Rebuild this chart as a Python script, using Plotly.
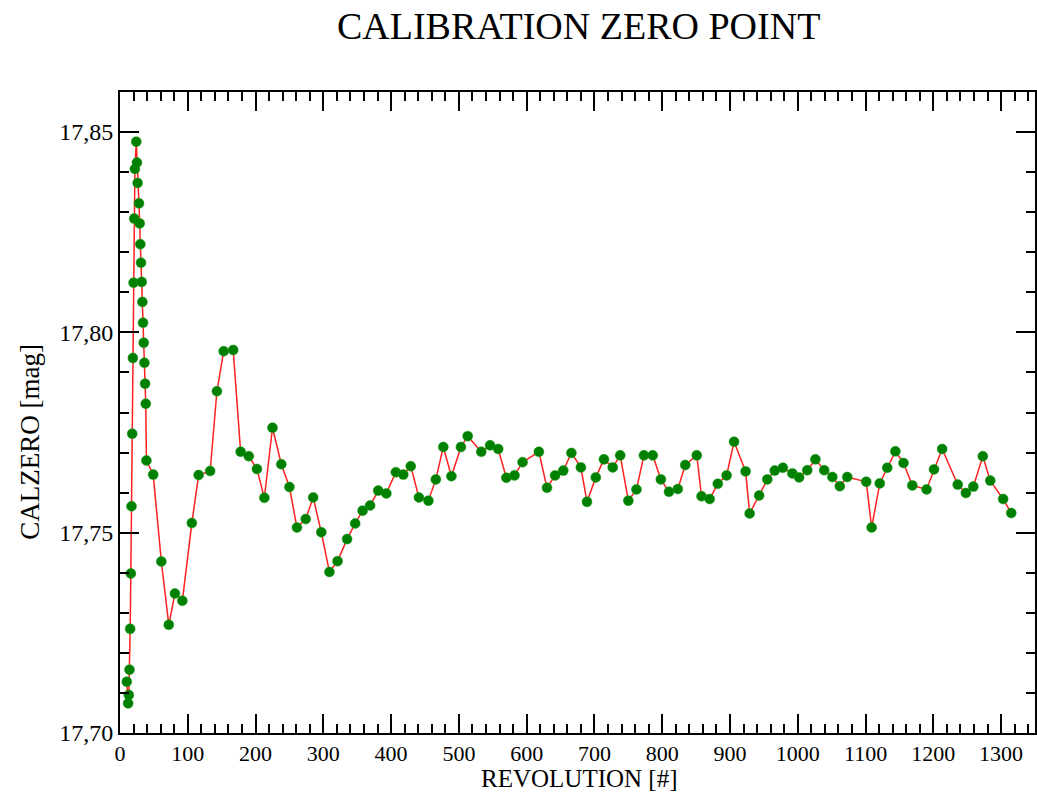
import plotly.graph_objects as go

revolution = [10, 12, 13, 14, 15, 16, 17, 18, 19, 20, 21, 22, 24, 25, 26, 28, 29, 30, 31, 32,
              33, 34, 35, 36, 37, 38, 39, 49, 61, 72, 81, 92, 106, 116, 133, 143, 153, 167, 178,
              190, 202, 213, 225, 238, 250, 261, 274, 285, 297, 309, 321, 335, 347, 358, 369,
              381, 393, 407, 418, 429, 441, 455, 466, 477, 489, 503, 513, 533, 546, 558, 570,
              582, 594, 618, 630, 642, 654, 666, 680, 689, 702, 714, 727, 738, 750, 762, 773,
              786, 798, 810, 823, 834, 851, 858, 870, 882, 895, 906, 923, 929, 943, 955, 966,
              978, 992, 1002, 1014, 1026, 1039, 1051, 1062, 1073, 1101, 1109, 1121, 1132, 1144,
              1156, 1169, 1190, 1201, 1213, 1236, 1248, 1259, 1273, 1284, 1303, 1315]

calzero = [17.7128, 17.7074, 17.7095, 17.7158, 17.7260, 17.7398, 17.7566, 17.7747, 17.7936,
           17.8124, 17.8284, 17.8408, 17.8476, 17.8424, 17.8373, 17.8322, 17.8272, 17.8220,
           17.8174, 17.8126, 17.8076, 17.8024, 17.7974, 17.7924, 17.7872, 17.7822, 17.7680,
           17.7645, 17.7428, 17.7270, 17.7348, 17.7330, 17.7524, 17.7644, 17.7654, 17.7853,
           17.7953, 17.7956, 17.7702, 17.7691, 17.7659, 17.7587, 17.7762, 17.7671, 17.7614,
           17.7513, 17.7534, 17.7588, 17.7501, 17.7402, 17.7429, 17.7484, 17.7523, 17.7555,
           17.7568, 17.7605, 17.7598, 17.7651, 17.7645, 17.7666, 17.7588, 17.7580, 17.7633,
           17.7714, 17.7641, 17.7714, 17.7741, 17.7702, 17.7718, 17.7709, 17.7637, 17.7643,
           17.7676, 17.7702, 17.7612, 17.7643, 17.7655, 17.7699, 17.7663, 17.7577, 17.7638,
           17.7683, 17.7663, 17.7693, 17.7580, 17.7608, 17.7693, 17.7693, 17.7633, 17.7602,
           17.7609, 17.7669, 17.7693, 17.7591, 17.7584, 17.7622, 17.7643, 17.7727, 17.7653,
           17.7548, 17.7593, 17.7633, 17.7655, 17.7662, 17.7648, 17.7638, 17.7656, 17.7683,
           17.7656, 17.7639, 17.7616, 17.7639, 17.7627, 17.7513, 17.7623, 17.7662, 17.7703,
           17.7674, 17.7618, 17.7608, 17.7658, 17.7709, 17.7620, 17.7599, 17.7615, 17.7691,
           17.7630, 17.7584, 17.7549]

x_ticks = list(range(0, 1301, 100))
y_ticks = [17.70, 17.75, 17.80, 17.85]

FONT = "Liberation Serif, Times New Roman, serif"

fig = go.Figure()
fig.add_trace(go.Scatter(
    x=revolution, y=calzero, mode="lines+markers",
    line=dict(color="#ff2020", width=1.5),
    marker=dict(color="#008000", size=10, line=dict(color="#1a9a1a", width=0.5)),
    showlegend=False,
))

fig.update_layout(
    width=1037, height=793,
    margin=dict(l=120, r=2, t=92, b=60, autoexpand=False),
    paper_bgcolor="white", plot_bgcolor="white",
    separators=",.",
    font=dict(family=FONT, color="black"),
    title=dict(text="CALIBRATION ZERO POINT", x=0.558, xanchor="center", y=0.967, yanchor="middle",
               font=dict(family=FONT, size=38, color="black")),
    annotations=[
        dict(text="REVOLUTION [#]", xref="paper", yref="paper", x=0.502, y=-0.071,
             xanchor="center", yanchor="middle", showarrow=False,
             font=dict(family=FONT, size=25, color="black")),
        dict(text="CALZERO [mag]", xref="paper", yref="paper", x=-0.098, y=0.455,
             xanchor="center", yanchor="middle", showarrow=False, textangle=-90,
             font=dict(family=FONT, size=27, color="black")),
    ],
)

fig.update_xaxes(
    range=[0, 1350], tickvals=x_ticks, tickformat="d", automargin=False,
    ticks="inside", ticklen=19, tickwidth=1.5, tickcolor="black",
    minor=dict(dtick=20, tick0=0, ticks="inside", ticklen=9, tickwidth=1.5, tickcolor="black"),
    showline=True, linecolor="black", linewidth=2, mirror="allticks",
    showgrid=False, zeroline=False,
    tickfont=dict(family=FONT, size=22, color="black"),
)
fig.update_yaxes(
    range=[17.70, 17.86], tickvals=y_ticks, tickformat=".2f", automargin=False,
    ticks="inside", ticklen=19, tickwidth=1.5, tickcolor="black",
    minor=dict(dtick=0.01, tick0=17.70, ticks="inside", ticklen=9, tickwidth=1.5, tickcolor="black"),
    showline=True, linecolor="black", linewidth=2, mirror="allticks",
    showgrid=False, zeroline=False,
    tickfont=dict(family=FONT, size=24, color="black"),
)

# remove the page's default body margin and scrollbars so the figure fills the window exactly
fig.write_html(
    "out.html",
    config={"displayModeBar": False},
    post_script="document.body.style.margin='0';document.body.style.overflow='hidden';",
)
